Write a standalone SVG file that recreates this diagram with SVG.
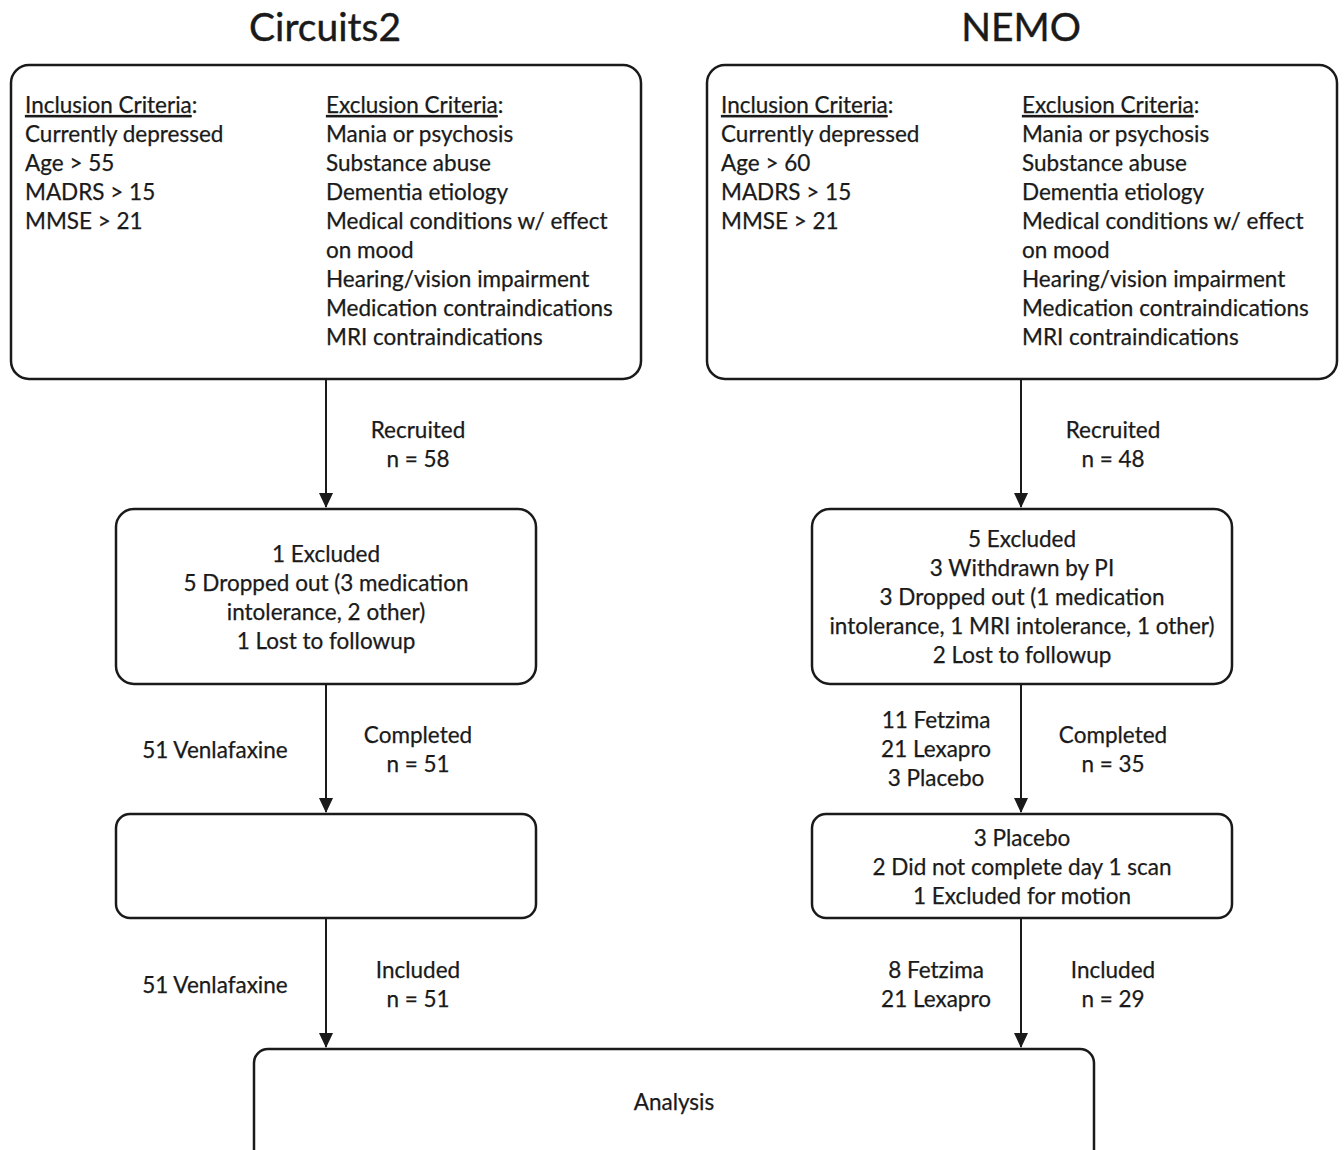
<svg xmlns="http://www.w3.org/2000/svg" width="1344" height="1150" viewBox="0 0 1344 1150">
<style>
text{font-family:Lato,"Open Sans","Liberation Sans",sans-serif;font-size:22.5px;fill:#1a1a1a;stroke:#1a1a1a;stroke-width:0.25}
.t{font-size:39px;stroke-width:0.4}
.c{text-anchor:middle}
.u{text-decoration:underline}
.box{fill:#fff;stroke:#1a1a1a;stroke-width:2.5}
.ln{stroke:#1a1a1a;stroke-width:2;fill:none}
</style>
<defs>
<marker id="ah" markerWidth="16" markerHeight="16" refX="14" refY="7" orient="auto" markerUnits="userSpaceOnUse">
<path d="M0,0 L15,7 L0,14 Z" fill="#1a1a1a"/>
</marker>
</defs>
<rect width="1344" height="1150" fill="#fff"/>
<text class="t c" x="325" y="41">Circuits2</text>
<text class="t c" x="1021" y="41">NEMO</text>

<g id="connectors">
<line class="ln" x1="326" y1="380" x2="326" y2="507" marker-end="url(#ah)"/>
<line class="ln" x1="1021" y1="380" x2="1021" y2="507" marker-end="url(#ah)"/>
<line class="ln" x1="326" y1="685" x2="326" y2="812" marker-end="url(#ah)"/>
<line class="ln" x1="1021" y1="685" x2="1021" y2="812" marker-end="url(#ah)"/>
<line class="ln" x1="326" y1="919" x2="326" y2="1047" marker-end="url(#ah)"/>
<line class="ln" x1="1021" y1="919" x2="1021" y2="1047" marker-end="url(#ah)"/>
<text class="c" x="418" y="438">Recruited</text>
<text class="c" x="418" y="467">n = 58</text>
<text class="c" x="1113" y="438">Recruited</text>
<text class="c" x="1113" y="467">n = 48</text>
<text class="c" x="215" y="758">51 Venlafaxine</text>
<text class="c" x="418" y="743">Completed</text>
<text class="c" x="418" y="772">n = 51</text>
<text class="c" x="936" y="728">11 Fetzima</text>
<text class="c" x="936" y="757">21 Lexapro</text>
<text class="c" x="936" y="786">3 Placebo</text>
<text class="c" x="1113" y="743">Completed</text>
<text class="c" x="1113" y="772">n = 35</text>
<text class="c" x="215" y="993">51 Venlafaxine</text>
<text class="c" x="418" y="978">Included</text>
<text class="c" x="418" y="1007">n = 51</text>
<text class="c" x="936" y="978">8 Fetzima</text>
<text class="c" x="936" y="1007">21 Lexapro</text>
<text class="c" x="1113" y="978">Included</text>
<text class="c" x="1113" y="1007">n = 29</text>
</g>

<g id="criteria-circuits2">
<rect class="box" x="11" y="65" width="630" height="314" rx="18"/>
<text x="25" y="113"><tspan class="u">Inclusion Criteria</tspan>:</text>
<text x="25" y="142">Currently depressed</text>
<text x="25" y="171">Age &gt; 55</text>
<text x="25" y="200">MADRS &gt; 15</text>
<text x="25" y="229">MMSE &gt; 21</text>
<text x="326" y="113"><tspan class="u">Exclusion Criteria</tspan>:</text>
<text x="326" y="142">Mania or psychosis</text>
<text x="326" y="171">Substance abuse</text>
<text x="326" y="200">Dementia etiology</text>
<text x="326" y="229">Medical conditions w/ effect</text>
<text x="326" y="258">on mood</text>
<text x="326" y="287">Hearing/vision impairment</text>
<text x="326" y="316">Medication contraindications</text>
<text x="326" y="345">MRI contraindications</text>
</g>

<g id="criteria-nemo">
<rect class="box" x="707" y="65" width="630" height="314" rx="18"/>
<text x="721" y="113"><tspan class="u">Inclusion Criteria</tspan>:</text>
<text x="721" y="142">Currently depressed</text>
<text x="721" y="171">Age &gt; 60</text>
<text x="721" y="200">MADRS &gt; 15</text>
<text x="721" y="229">MMSE &gt; 21</text>
<text x="1022" y="113"><tspan class="u">Exclusion Criteria</tspan>:</text>
<text x="1022" y="142">Mania or psychosis</text>
<text x="1022" y="171">Substance abuse</text>
<text x="1022" y="200">Dementia etiology</text>
<text x="1022" y="229">Medical conditions w/ effect</text>
<text x="1022" y="258">on mood</text>
<text x="1022" y="287">Hearing/vision impairment</text>
<text x="1022" y="316">Medication contraindications</text>
<text x="1022" y="345">MRI contraindications</text>
</g>

<g id="dropout-circuits2">
<rect class="box" x="116" y="509" width="420" height="175" rx="18"/>
<text class="c" x="326" y="562">1 Excluded</text>
<text class="c" x="326" y="591">5 Dropped out (3 medication</text>
<text class="c" x="326" y="620">intolerance, 2 other)</text>
<text class="c" x="326" y="649">1 Lost to followup</text>
</g>

<g id="dropout-nemo">
<rect class="box" x="812" y="509" width="420" height="175" rx="18"/>
<text class="c" x="1022" y="547">5 Excluded</text>
<text class="c" x="1022" y="576">3 Withdrawn by PI</text>
<text class="c" x="1022" y="605">3 Dropped out (1 medication</text>
<text class="c" x="1022" y="634">intolerance, 1 MRI intolerance, 1 other)</text>
<text class="c" x="1022" y="663">2 Lost to followup</text>
</g>

<g id="scan-circuits2">
<rect class="box" x="116" y="814" width="420" height="104" rx="14"/>
</g>

<g id="scan-nemo">
<rect class="box" x="812" y="814" width="420" height="104" rx="14"/>
<text class="c" x="1022" y="846">3 Placebo</text>
<text class="c" x="1022" y="875">2 Did not complete day 1 scan</text>
<text class="c" x="1022" y="904">1 Excluded for motion</text>
</g>

<g id="analysis">
<rect class="box" x="254" y="1049" width="840" height="130" rx="14"/>
<text class="c" x="674" y="1110">Analysis</text>
</g>
</svg>
